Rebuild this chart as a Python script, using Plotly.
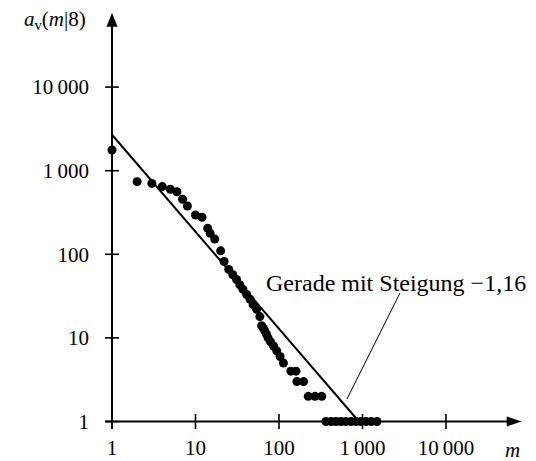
import math
import plotly.graph_objects as go

# frequency m of a word form and the number a_v(m|8) of forms with that frequency
m_vals = [1, 2, 3, 4, 5, 6, 7, 8, 10, 12, 14, 15, 17, 20, 22, 25,
          28, 31, 34, 37, 41, 45, 49, 54, 59,
          62, 65, 68, 71, 74, 79, 86, 94, 103, 113,
          139, 160, 164, 197, 224, 270, 325,
          365, 420, 480, 550, 630, 730, 840, 960, 1100, 1270, 1490]
a_vals = [1770, 740, 705, 645, 600, 560, 455, 378, 295, 277, 205, 178, 152, 110, 82, 66,
          57, 50, 43, 38, 33, 29, 25, 22, 18,
          14, 13, 12, 11, 10, 9, 8, 7, 6, 5,
          4, 4, 3, 3, 2, 2, 2,
          1, 1, 1, 1, 1, 1, 1, 1, 1, 1, 1]

# fitted straight line in the log-log plane
slope = -1.16
log_intercept = 3.43
fit_label = "Gerade mit Steigung \u22121,16"

# leader from the label down to the fitted line
leader_m = [2810, 652]
leader_a = [34.4, 1.86]

tick_vals = [1, 10, 100, 1000, 10000]
tick_text = ["1", "10", "100", "1\u2009000", "10\u2009000"]

x_axis_end = 10 ** 4.907
y_axis_end = 10 ** 4.89

FONT = "Liberation Serif"
INK = "black"

fit_end = 10 ** (log_intercept / -slope)
fit_x = [1, fit_end]
fit_y = [10 ** log_intercept * x ** slope for x in fit_x]

fig = go.Figure()
fig.add_trace(go.Scatter(x=fit_x, y=fit_y, mode="lines",
                         line=dict(color=INK, width=2), cliponaxis=False,
                         hoverinfo="skip"))
fig.add_trace(go.Scatter(x=m_vals, y=a_vals, mode="markers",
                         marker=dict(color=INK, size=9, line=dict(width=0)),
                         cliponaxis=False))


def pixel_path(xa, ya, path, fill=None, width=2):
    shape = dict(type="path", xref="x", yref="y", xsizemode="pixel", ysizemode="pixel",
                 xanchor=xa, yanchor=ya, path=path, line=dict(color=INK, width=width))
    if fill:
        shape["fillcolor"] = fill
        shape["line"] = dict(width=0)
    return shape


shapes = []
# axis lines, running a little past the origin
shapes.append(dict(type="line", xref="x", yref="y", x0=1, x1=x_axis_end * 0.8, y0=1, y1=1,
                   line=dict(color=INK, width=2)))
shapes.append(dict(type="line", xref="x", yref="y", x0=1, x1=1, y0=1, y1=y_axis_end * 0.8,
                   line=dict(color=INK, width=2)))
shapes.append(pixel_path(1, 1, "M -7,0 L 0,0"))
shapes.append(pixel_path(1, 1, "M 0,-7 L 0,0"))
# arrow heads
shapes.append(pixel_path(x_axis_end, 1, "M 0,0 L -15,5 L -15,-5 Z", fill=INK))
shapes.append(pixel_path(1, y_axis_end, "M 0,0 L -5.5,-14 L 5.5,-14 Z", fill=INK))
# tick marks crossing the axes
for t in tick_vals:
    shapes.append(pixel_path(t, 1, "M 0,-7.5 L 0,7.5", width=1.6))
    shapes.append(pixel_path(1, t, "M -7,0 L 7,0", width=1.6))
shapes.append(dict(type="line", xref="x", yref="y",
                   x0=leader_m[0], y0=leader_a[0], x1=leader_m[1], y1=leader_a[1],
                   line=dict(color=INK, width=1)))

annotations = [
    dict(text=fit_label, x=math.log10(66), y=math.log10(45), xref="x", yref="y",
         xanchor="left", yanchor="middle", showarrow=False,
         font=dict(family=FONT, size=24, color=INK)),
    dict(text="<i>a</i><sub>v</sub>(<i>m</i>|8)", x=0, y=1, xref="paper", yref="paper",
         xanchor="right", yanchor="middle", xshift=-12, yshift=-15, showarrow=False,
         font=dict(family=FONT, size=21, color=INK)),
    dict(text="<i>m</i>", x=1, y=0, xref="paper", yref="paper",
         xanchor="center", yanchor="middle", xshift=-18, yshift=-15, showarrow=False,
         font=dict(family=FONT, size=21, color=INK)),
]

fig.update_layout(
    width=536, height=461,
    margin=dict(l=100, r=6, t=5, b=26, pad=0),
    paper_bgcolor="white", plot_bgcolor="white",
    showlegend=False,
    shapes=shapes, annotations=annotations,
    font=dict(family=FONT, size=21, color=INK),
    xaxis=dict(type="log", range=[-12 / 83.5, 418 / 83.5], showgrid=False, zeroline=False,
               showline=False, ticks="", tickvals=tick_vals, ticktext=tick_text,
               ticklabelstandoff=-2, automargin=False, fixedrange=True),
    yaxis=dict(type="log", range=[-13.5 / 83.6, 416.5 / 83.6], showgrid=False, zeroline=False,
               showline=False, ticks="", tickvals=tick_vals, ticktext=tick_text,
               ticklabelstandoff=10, automargin=False, fixedrange=True),
)

fig.write_html("out.html")
